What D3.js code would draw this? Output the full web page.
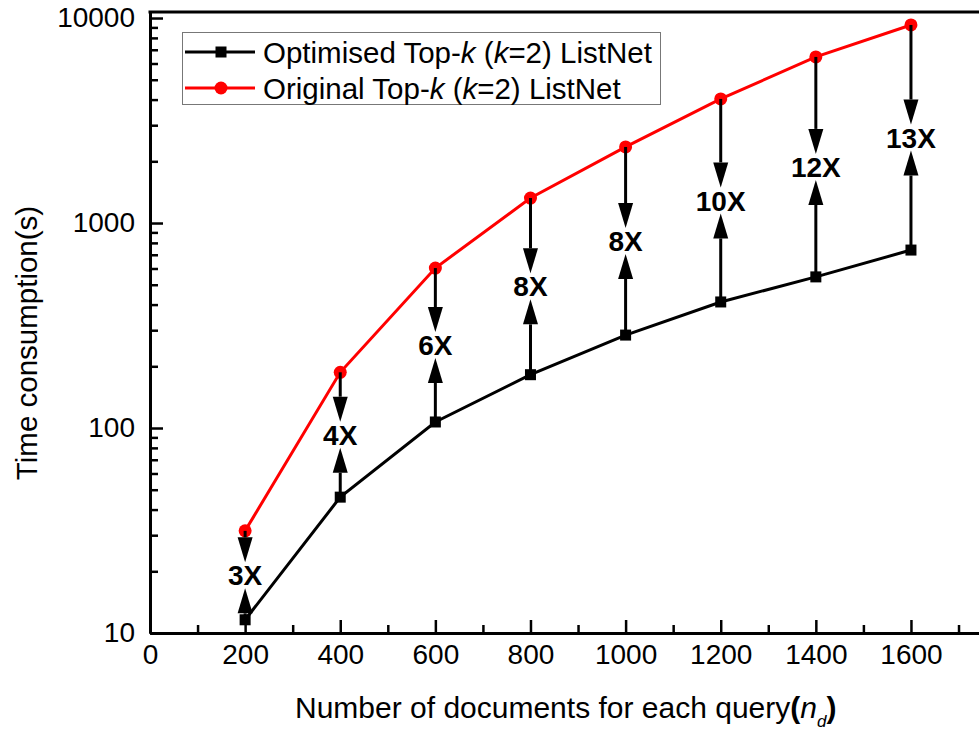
<!DOCTYPE html>
<html>
<head>
<meta charset="utf-8">
<script src="https://cdn.jsdelivr.net/npm/d3@7"></script>
<style>
  body { margin: 0; background: #fff; }
  text { font-family: "Liberation Sans", Arial, sans-serif; }
</style>
</head>
<body>
<div id="graph"></div>
<script>
// data
const docCounts = [200, 400, 600, 800, 1000, 1200, 1400, 1600];
const optimisedTime = [11.6, 46, 107, 182, 284, 412, 546, 738];
const originalTime = [31.5, 187, 603, 1324, 2350, 4030, 6460, 9250];
const speedupLabels = ["3X", "4X", "6X", "8X", "8X", "10X", "12X", "13X"];
const xMajorTicks = [0, 200, 400, 600, 800, 1000, 1200, 1400, 1600];
const xMinorTicks = [100, 300, 500, 700, 900, 1100, 1300, 1500, 1700];
const yMajorTicks = [10, 100, 1000, 10000];

const width = 979;
const height = 731;
const marginLeft = 150;
const marginTop = 12;
const plotBottom = 633;

const x = d3.scaleLinear()
    .domain([0, 1800])
    .range([marginLeft, marginLeft + 1800 * 0.4756]);

const y = d3.scaleLog()
    .domain([10, 10700])
    .range([plotBottom, marginTop]);

const svg = d3.create("svg")
    .attr("width", width)
    .attr("height", height);

// minor ticks on y: 2..9 in every decade
const yMinorTicks = [];
[10, 100, 1000].forEach(d => {
    for (let k = 2; k <= 9; k++) yMinorTicks.push(d * k);
});

function styleAxis(g) {
    g.attr("font-family", null).attr("font-size", null);
    g.select(".domain").attr("stroke-width", 3).attr("stroke", "#000");
    g.selectAll(".tick line").attr("stroke-width", 2.5).attr("stroke", "#000");
    g.selectAll(".tick text")
        .style("font-size", "28px")
        .attr("fill", "#000");
}

// x axis
svg.append("g")
    .attr("transform", `translate(0,${plotBottom})`)
    .call(d3.axisBottom(x).tickValues(xMinorTicks).tickSize(-8).tickSizeOuter(0).tickFormat(""))
    .call(styleAxis);
svg.append("g")
    .attr("transform", `translate(0,${plotBottom})`)
    .call(d3.axisBottom(x).tickValues(xMajorTicks).tickSize(-13).tickSizeOuter(0).tickPadding(11).tickFormat(d3.format("d")))
    .call(styleAxis);

// y axis
svg.append("g")
    .attr("transform", `translate(${marginLeft},0)`)
    .call(d3.axisLeft(y).tickValues(yMinorTicks).tickSize(-8).tickSizeOuter(0).tickFormat(""))
    .call(styleAxis);
svg.append("g")
    .attr("transform", `translate(${marginLeft},0)`)
    .call(d3.axisLeft(y).tickValues(yMajorTicks).tickSize(-13).tickSizeOuter(0).tickPadding(15).tickFormat(d3.format("d")))
    .call(styleAxis);

// top frame line
svg.append("line")
    .attr("x1", x.range()[0] - 1.5)
    .attr("x2", x.range()[1])
    .attr("y1", y.range()[1])
    .attr("y2", y.range()[1])
    .attr("stroke", "#000")
    .attr("stroke-width", 3);

// y title
svg.append("text")
    .attr("transform", "translate(37,343) rotate(-90)")
    .attr("text-anchor", "middle")
    .style("font-size", "29.5px")
    .text("Time consumption(s)");

// x title
const xTitle = svg.append("text")
    .attr("x", 295)
    .attr("y", 718)
    .style("font-size", "30px");
xTitle.append("tspan").text("Number of documents for each query");
xTitle.append("tspan").attr("font-weight", "bold").text("(");
xTitle.append("tspan").attr("font-style", "italic").text("n");
xTitle.append("tspan").attr("font-style", "italic").attr("font-size", "17px").attr("dy", 9).text("d");
xTitle.append("tspan").attr("font-weight", "bold").attr("dy", -9).text(")");

const optimised = docCounts.map((d, i) => ({ x: d, v: optimisedTime[i] }));
const original = docCounts.map((d, i) => ({ x: d, v: originalTime[i] }));

const line = d3.line()
    .x(d => x(d.x))
    .y(d => y(d.v));

// series lines
svg.append("path")
    .datum(optimised)
    .attr("fill", "none")
    .attr("stroke", "#000")
    .attr("stroke-width", 3)
    .attr("d", line);

svg.append("path")
    .datum(original)
    .attr("fill", "none")
    .attr("stroke", "#ff0000")
    .attr("stroke-width", 3)
    .attr("d", line);

// markers
svg.append("g")
    .selectAll("rect")
    .data(optimised)
    .join("rect")
    .attr("x", d => x(d.x) - 5.5)
    .attr("y", d => y(d.v) - 5.5)
    .attr("width", 11)
    .attr("height", 11)
    .attr("fill", "#000");

svg.append("g")
    .selectAll("circle")
    .data(original)
    .join("circle")
    .attr("cx", d => x(d.x))
    .attr("cy", d => y(d.v))
    .attr("r", 6.5)
    .attr("fill", "#ff0000");

// speed-up arrows and labels (label at the log midpoint)
const gaps = docCounts.map((d, i) => ({
    x: d,
    lo: optimisedTime[i],
    hi: originalTime[i],
    mid: Math.sqrt(optimisedTime[i] * originalTime[i]),
    label: speedupLabels[i]
}));

const headLen = 25;
const headHalf = 7.5;
const gapPx = 13;

function arrow(g, x0, yFrom, yTo) {
    const dir = yTo > yFrom ? 1 : -1;
    const base = yTo - dir * headLen;
    g.append("line")
        .attr("x1", x0).attr("x2", x0)
        .attr("y1", yFrom).attr("y2", base)
        .attr("stroke", "#000")
        .attr("stroke-width", 3);
    g.append("path")
        .attr("d", `M${x0 - headHalf},${base}L${x0 + headHalf},${base}L${x0},${yTo}Z`)
        .attr("fill", "#000");
}

const arrows = svg.append("g");
gaps.forEach(d => {
    const cx = x(d.x);
    const cy = y(d.mid);
    arrow(arrows, cx, y(d.hi), cy - gapPx);
    arrow(arrows, cx, y(d.lo), cy + gapPx);
    arrows.append("text")
        .attr("x", cx)
        .attr("y", cy)
        .attr("text-anchor", "middle")
        .attr("dy", "0.36em")
        .attr("font-weight", "bold")
        .style("font-size", "28px")
        .text(d.label);
});

// legend
const legend = svg.append("g");
legend.append("rect")
    .attr("x", 182.5)
    .attr("y", 32.5)
    .attr("width", 478)
    .attr("height", 72)
    .attr("fill", "#fff")
    .attr("stroke", "#777")
    .attr("stroke-width", 1);

const legendItems = [
    { name: "Optimised", color: "#000", shape: "square" },
    { name: "Original", color: "#ff0000", shape: "circle" }
];

legendItems.forEach((item, i) => {
    const cy = 52 + i * 36;
    legend.append("line")
        .attr("x1", 185).attr("x2", 255)
        .attr("y1", cy).attr("y2", cy)
        .attr("stroke", item.color)
        .attr("stroke-width", 3);
    if (item.shape === "square") {
        legend.append("rect")
            .attr("x", 221 - 5.5).attr("y", cy - 5.5)
            .attr("width", 11).attr("height", 11)
            .attr("fill", item.color);
    } else {
        legend.append("circle")
            .attr("cx", 221).attr("cy", cy)
            .attr("r", 6.5)
            .attr("fill", item.color);
    }
    const t = legend.append("text")
        .attr("x", 263)
        .attr("y", cy)
        .attr("dy", "0.36em")
        .style("font-size", "29.5px");
    t.append("tspan").text(item.name + " Top-");
    t.append("tspan").attr("font-style", "italic").text("k");
    t.append("tspan").text(" (");
    t.append("tspan").attr("font-style", "italic").text("k");
    t.append("tspan").text("=2) ListNet");
});

document.getElementById("graph").appendChild(svg.node());
</script>
</body>
</html>
